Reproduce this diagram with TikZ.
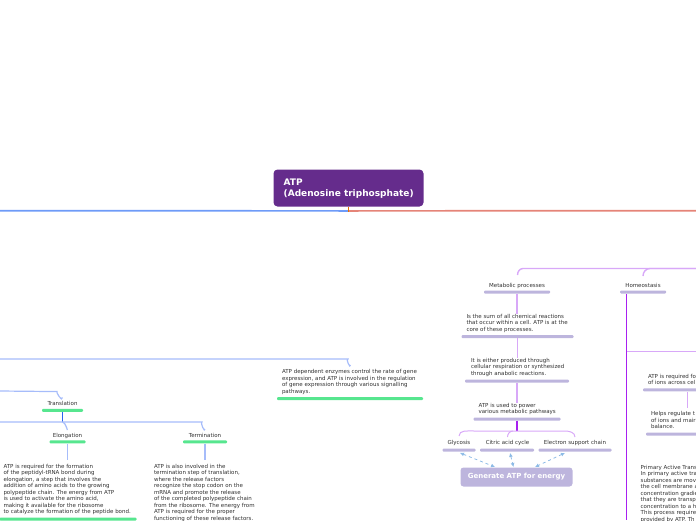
\documentclass[tikz,border=0pt]{standalone}
\usepackage{fontspec}
\setmainfont{DejaVu Sans}
\usetikzlibrary{arrows.meta}
\definecolor{rootc}{HTML}{652C8C}
\definecolor{bluel}{HTML}{6E9BF8}
\definecolor{redl}{HTML}{E58478}
\definecolor{paleb}{HTML}{A6BCFA}
\definecolor{deepb}{HTML}{2A62F0}
\definecolor{greenb}{HTML}{57E68F}
\definecolor{lavb}{HTML}{BDB5DD}
\definecolor{palep}{HTML}{D8A8F8}
\definecolor{deepp}{HTML}{A820F0}
\definecolor{txt}{HTML}{303030}
\definecolor{dashb}{HTML}{8DBBE6}
\tikzset{
 x=1pt,y=-1pt,
 lbl/.style={inner sep=0pt,outer sep=0pt,font=\fontsize{5.5}{6.5}\selectfont,text=txt,align=left,anchor=north west},
 ctr/.style={lbl,anchor=center,align=center},
 gbar/.style={draw=none,fill=greenb,rounded corners=1pt,inner sep=0pt,minimum height=3pt},
 lbar/.style={draw=none,fill=lavb,rounded corners=1pt,inner sep=0pt,minimum height=3pt},
 pb/.style={draw=paleb,line width=1.2pt,rounded corners=7pt},
 pp/.style={draw=palep,line width=1.4pt},
 dp/.style={draw=deepp,line width=1.4pt},
 dsh/.style={draw=dashb,line width=.8pt,dash pattern=on 3pt off 3pt,{Latex[length=4pt,width=4pt]}-{Latex[length=4pt,width=4pt]}},
}
\begin{document}
\begin{tikzpicture}
\useasboundingbox (0,0) rectangle (696,520);
\clip (0,0) rectangle (696,520);
% root
\node[fill=rootc,rounded corners=4pt,minimum width=150pt,minimum height=37pt,inner sep=0pt] (root) at (348.5,188) {};
\node[inner sep=0pt,anchor=west,align=left,text=white,font=\fontsize{9}{11.5}\selectfont\bfseries] (roott) at (283.5,188.5) {ATP\\(Adenosine triphosphate)};
\coordinate (bl) at (0,210.7);
\coordinate (br) at (696,210.7);
\draw[bluel,line width=1.7pt] (root.south) ++(0,4.2) -- (bl);
\draw[redl,line width=1.7pt] (root.south) ++(0,4.2) -- (br);
\draw[orange!90!black,line width=.8pt] (root.south) -- ++(0,4.8);
% left: gene expression
\node[lbl] (gene) at (282,369.8) {ATP dependent enzymes control the rate of gene\\expression, and ATP is involved in the regulation\\of gene expression through various signalling\\pathways.};
\node[gbar,minimum width=146pt] (geneb) at (350,398.5) {};
\coordinate (t1) at (0,359);
\draw[pb] (t1) -- (341,359) to[out=0,in=-90] (350.5,365);
% translation
\node[ctr] (trans) at (62.5,403.5) {Translation};
\node[gbar,minimum width=41pt] (transb) at (62.5,410.3) {};
\coordinate (t2) at (0,391);
\draw[pb] (t2) -- (50,391.5) to[out=0,in=-90] (62.5,397.5);
\coordinate (t3) at (0,422);
\draw[deepb,line width=1.2pt] (transb.south) -- (62.5,422);
\draw[pb] (t3) -- (195,422) to[out=0,in=-90] (205,429);
\draw[pb] (62.5,422) to[out=0,in=-90] (67.5,429);
% elongation
\node[ctr] (elong) at (67.5,435.5) {Elongation};
\node[gbar,minimum width=36pt] (elongb) at (67.5,441.8) {};
\node[lbl] (elongt) at (3.5,464) {ATP is required for the formation\\of the peptidyl-tRNA bond during\\elongation, a step that involves the\\addition of amino acids to the growing\\polypeptide chain. The energy from ATP\\is used to activate the amino acid,\\making it available for the ribosome\\to catalyze the formation of the peptide bond.};
\node[gbar,minimum width=137pt] (elongtb) at (68,519) {};
\draw[paleb,line width=1.2pt] (elongb.south) -- (67.5,460);
% termination
\node[ctr] (term) at (205,435.5) {Termination};
\node[gbar,minimum width=44pt] (termb) at (205,441.8) {};
\node[lbl] (termt) at (154,464) {ATP is also involved in the\\termination step of translation,\\where the release factors\\recognize the stop codon on the\\mRNA and promote the release\\of the completed polypeptide chain\\from the ribosome. The energy from\\ATP is required for the proper\\functioning of these release factors.};
\draw[paleb,line width=1.6pt] (termb.south) -- (205,460);
% metabolic
\node[ctr] (meta) at (517,285.5) {Metabolic processes};
\node[lbar,minimum width=66pt] (metab) at (517,292) {};
\node[lbl] (m1) at (466.5,314.3) {Is the sum of all chemical reactions\\that occur within a cell. ATP is at the\\core of these processes.};
\node[lbar,minimum width=112pt] (m1b) at (517.5,336.5) {};
\node[lbl] (m2) at (471,358.3) {It is either produced through\\cellular respiration or synthesized\\through anabolic reactions.};
\node[lbar,minimum width=104pt] (m2b) at (517,381) {};
\node[lbl] (m3) at (478.5,403.3) {ATP is used to power\\various metabolic pathways};
\node[lbar,minimum width=87pt] (m3b) at (517,419) {};
\draw[pp] (696,268.5) -- (523,268.5) to[out=180,in=90] (517.5,275);
\draw[pp] (696,268.5) -- (650,268.5) to[out=180,in=90] (643,276);
\draw[pp] (metab.south) -- (m1.north -| metab.south);
\draw[pp] (m1b.south) -- (m2.north -| m1b.south);
\draw[pp] (m2b.south) -- (m3.north -| m2b.south);
\draw[deepp,line width=1.2pt] (m3b.south) -- ++(0,10);
\draw[pp,line width=1pt] (459,436) to[out=90,in=180] (474,431) -- (565,431) to[out=0,in=90] (575,437);
\draw[pp,line width=1pt] (507.5,437) to[out=90,in=180] (513,431);
% leaves
\node[ctr] (gly) at (459,443) {Glycosis};
\node[lbar,minimum width=33pt] (glyb) at (459,450.2) {};
\node[ctr] (cit) at (507.5,443) {Citric acid cycle};
\node[lbar,minimum width=54pt] (citb) at (507,450.2) {};
\node[ctr] (ele) at (575,443) {Electron support chain};
\node[lbar,minimum width=73pt] (eleb) at (575,450.2) {};
\node[fill=lavb,rounded corners=3pt,minimum width=112pt,minimum height=19pt,inner sep=0pt,text=white,font=\fontsize{7}{8}\selectfont\bfseries] (gen) at (516.5,477) {Generate ATP for energy};
\draw[dsh] (glyb.south) ++(1,1) -- (495,467);
\draw[dsh] (citb.south) ++(3,1) -- (513.5,467);
\draw[dsh] (eleb.south) ++(-10,1) -- (535,467);
% homeostasis
\node[ctr] (home) at (643,285.5) {Homeostasis};
\node[lbar,minimum width=46pt] (homeb) at (643,292) {};
\draw[dp] (626.5,294) -- (626.5,520);
\draw[pp,line width=1pt] (626.5,351.5) -- (696,351.5);
\node[lbl] (h1) at (648,374.3) {ATP is required fo\\of ions across cel};
\node[lbar,minimum width=90pt] (h1b) at (688,389.8) {};
\node[lbl] (h2) at (651,411.8) {Helps regulate t\\of ions and mair\\balance.};
\node[lbar,minimum width=90pt] (h2b) at (691,434) {};
\node[lbl] (h3) at (640.7,465.3) {Primary Active Trans\\In primary active tra\\substances are mov\\the cell membrane a\\concentration gradie\\that they are transp\\concentration to a h\\This process require\\provided by ATP. Th};
\draw[pp,line width=1pt] (687,392) -- (687,408);
\end{tikzpicture}
\end{document}
